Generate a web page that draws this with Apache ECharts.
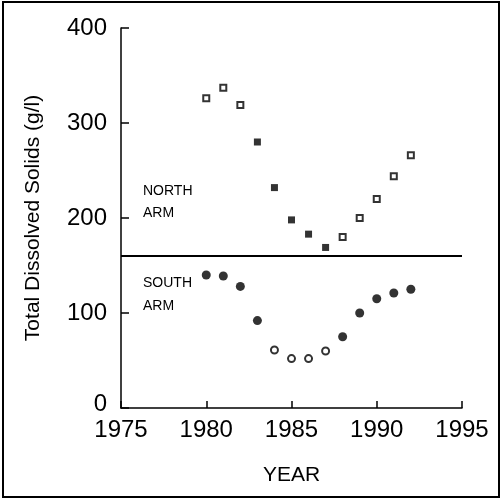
<!DOCTYPE html>
<html>
<head>
<meta charset="utf-8">
<script src="https://cdn.jsdelivr.net/npm/echarts@6/dist/echarts.min.js"></script>
<style>
html,body{margin:0;padding:0;background:#fff;}
#chart{width:502px;height:503px;}
</style>
</head>
<body>
<div id="chart"></div>
<script>
// TDS readings, north / south arm
const years = [1980, 1981, 1982, 1983, 1984, 1985, 1986, 1987, 1988, 1989, 1990, 1991, 1992];
const northTDS = [326, 337, 319, 280, 232, 198, 183, 169, 180, 200, 220, 244, 266];
const northOpen = [1, 1, 1, 0, 0, 0, 0, 0, 1, 1, 1, 1, 1];
const southTDS = [140, 139, 128, 92, 61, 52, 52, 60, 75, 100, 115, 121, 125];
const southOpen = [0, 0, 0, 0, 1, 1, 1, 1, 0, 0, 0, 0, 0];
const divideLevel = 160;
const xTicks = [1975, 1980, 1985, 1990, 1995];
const yTicks = [0, 100, 200, 300, 400];

const FONT = 'Liberation Sans';

function pick(vals, flags, want) {
	let out = [];
	years.forEach((y, i) => {
		if (flags[i] === want) out.push([y, vals[i]]);
	});
	return out;
}

let myChart = echarts.init(document.getElementById('chart'));

myChart.setOption({
	animation: false,
	backgroundColor: '#fff',
	grid: { left: 121, right: 40, top: 28, bottom: 95 },
	xAxis: {
		type: 'value',
		min: xTicks[0], max: xTicks[xTicks.length - 1], interval: 5,
		name: 'YEAR', nameLocation: 'middle', nameGap: 57,
		nameTextStyle: { fontFamily: FONT, fontSize: 21, color: '#000' },
		axisLine: { lineStyle: { color: '#000', width: 1.5 } },
		axisTick: { inside: true, length: 7, lineStyle: { color: '#000', width: 1.5 } },
		axisLabel: { fontFamily: FONT, fontSize: 24, color: '#000', margin: 10, formatter: v => String(v) },
		splitLine: { show: false }
	},
	yAxis: {
		type: 'value',
		min: yTicks[0], max: yTicks[yTicks.length - 1], interval: 100,
		name: 'Total Dissolved Solids (g/l)', nameLocation: 'middle', nameGap: 77, nameRotate: 90,
		nameTextStyle: { fontFamily: FONT, fontSize: 21, color: '#000' },
		axisLine: { show: true, lineStyle: { color: '#000', width: 1.5 } },
		axisTick: { show: true, inside: true, length: 8, lineStyle: { color: '#000', width: 1.5 } },
		axisLabel: {
			fontFamily: FONT, fontSize: 24, color: '#000', margin: 14,
			formatter: v => v === 0 ? '{z|0}' : String(v),
			rich: { z: { fontFamily: FONT, fontSize: 24, color: '#000', padding: [0, 0, 8, 0] } }
		},
		splitLine: { show: false }
	},
	graphic: [
		{ type: 'rect', shape: { x: 3, y: 2, width: 496, height: 495 }, style: { fill: 'none', stroke: '#000', lineWidth: 2 }, silent: true },
		{ type: 'text', left: 143, top: 184, style: { text: 'NORTH', font: '14px "Liberation Sans"', fill: '#000' } },
		{ type: 'text', left: 143, top: 206, style: { text: 'ARM', font: '14px "Liberation Sans"', fill: '#000' } },
		{ type: 'text', left: 143, top: 276, style: { text: 'SOUTH', font: '14px "Liberation Sans"', fill: '#000' } },
		{ type: 'text', left: 143, top: 299, style: { text: 'ARM', font: '14px "Liberation Sans"', fill: '#000' } }
	],
	series: [
		{
			name: 'North open', type: 'scatter', symbol: 'rect', symbolSize: 6,
			itemStyle: { color: '#fff', borderColor: '#000', borderWidth: 2 },
			data: pick(northTDS, northOpen, 1),
			markLine: {
				silent: true, symbol: 'none', label: { show: false },
				lineStyle: { color: '#000', width: 2, type: 'solid' },
				data: [{ yAxis: divideLevel }]
			}
		},
		{
			name: 'North filled', type: 'scatter', symbol: 'rect', symbolSize: 7,
			itemStyle: { color: '#000' },
			data: pick(northTDS, northOpen, 0)
		},
		{
			name: 'South open', type: 'scatter', symbol: 'circle', symbolSize: 7,
			itemStyle: { color: '#fff', borderColor: '#000', borderWidth: 2 },
			data: pick(southTDS, southOpen, 1)
		},
		{
			name: 'South filled', type: 'scatter', symbol: 'circle', symbolSize: 9,
			itemStyle: { color: '#000' },
			data: pick(southTDS, southOpen, 0)
		}
	]
});
</script>
</body>
</html>
